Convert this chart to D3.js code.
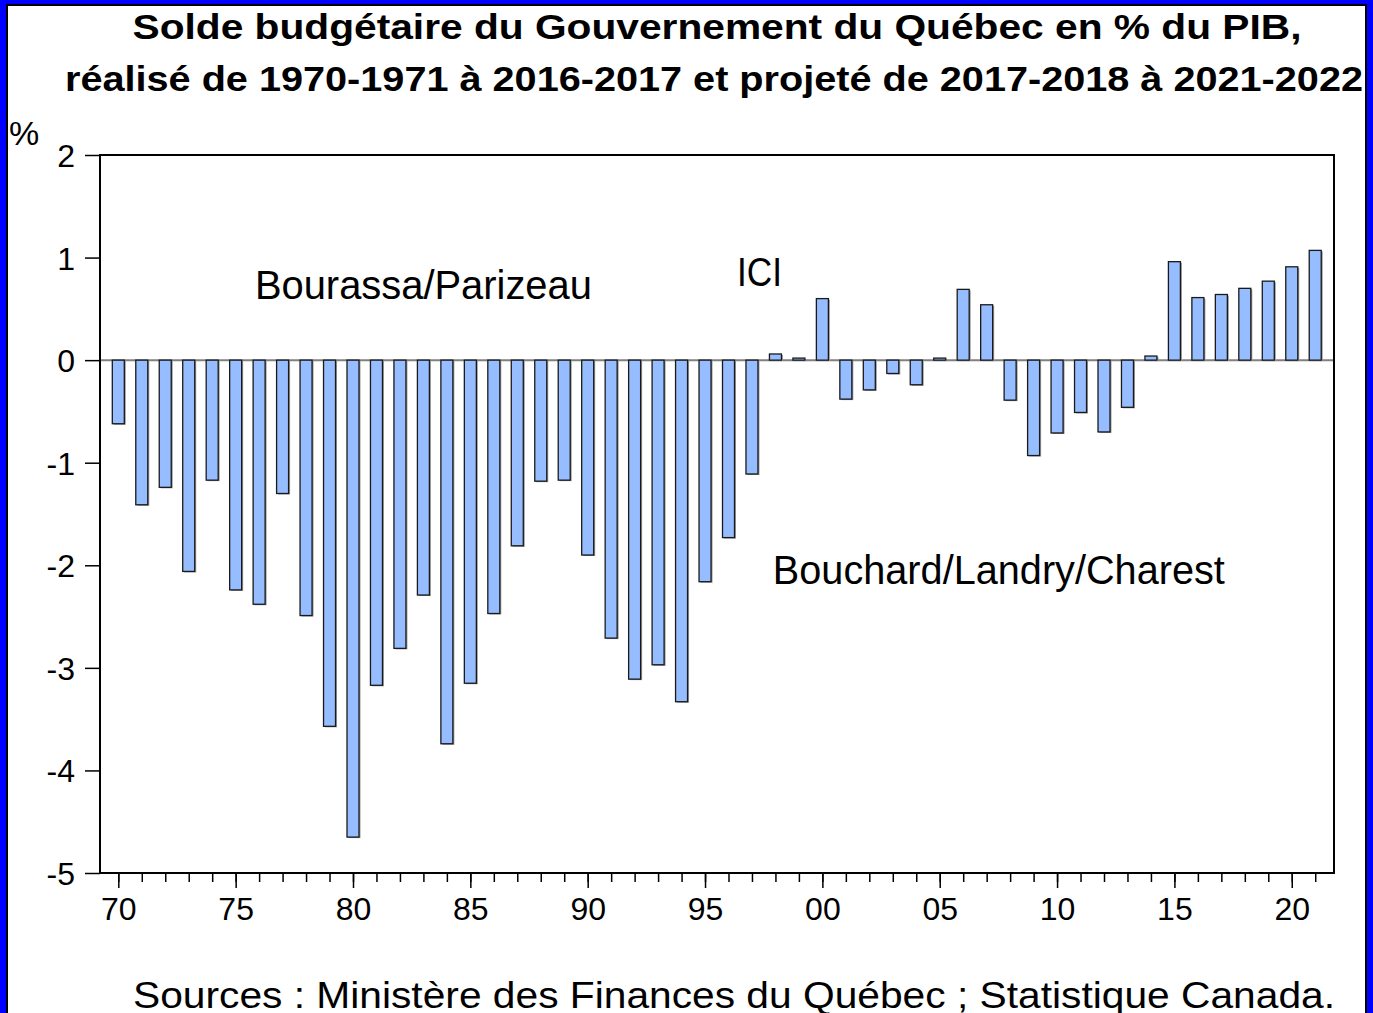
<!DOCTYPE html>
<html>
<head>
<meta charset="utf-8">
<script src="https://cdn.jsdelivr.net/npm/d3@7"></script>
<style>
  body { margin: 0; background: #0000ff; }
  text { font-family: "Liberation Sans", Arial, sans-serif; fill: #000; }
</style>
</head>
<body>
<div id="vis"></div>
<script>
// frame constants
const FRAME_WIDTH = 1373;
const FRAME_HEIGHT = 1013;
const PLOT = {left: 100, right: 1334, top: 155, bottom: 873};

// data (fiscal year start, % of GDP)
const YEARS = d3.range(1970, 2022);
const SOLDE = [-0.62, -1.41, -1.24, -2.06, -1.17, -2.24, -2.38, -1.30, -2.49, -3.57,
               -4.65, -3.17, -2.81, -2.29, -3.74, -3.15, -2.47, -1.81, -1.18, -1.17,
               -1.90, -2.71, -3.11, -2.97, -3.33, -2.16, -1.73, -1.11, 0.06, 0.02,
               0.60, -0.38, -0.29, -0.13, -0.24, 0.02, 0.69, 0.54, -0.39, -0.93,
               -0.71, -0.51, -0.70, -0.46, 0.04, 0.96, 0.61, 0.64, 0.70, 0.77,
               0.91, 1.07];
const Y_TICKS = [-5, -4, -3, -2, -1, 0, 1, 2];
const X_LABEL_YEARS = [1970, 1975, 1980, 1985, 1990, 1995, 2000, 2005, 2010, 2015, 2020];

const TITLE = ["Solde budgétaire du Gouvernement du Québec en % du PIB,",
               "réalisé de 1970-1971 à 2016-2017 et projeté de 2017-2018 à 2021-2022"];
const TITLE_WIDTHS = [1169, 1298];
const NOTES = [{text: "Bourassa/Parizeau", year: 1975.82, value: 0.60, len: 337},
               {text: "ICI", year: 1996.36, value: 0.72, len: 45},
               {text: "Bouchard/Landry/Charest", year: 1997.89, value: -2.18, len: 452}];
const SOURCE = "Sources : Ministère des Finances du Québec ; Statistique Canada.";

const data = YEARS.map((y, i) => ({year: y, value: SOLDE[i]}));

const SVG = d3.select("#vis")
  .append("svg")
    .attr("width", FRAME_WIDTH)
    .attr("height", FRAME_HEIGHT)
    .style("display", "block");

// blue frame with black inner line
SVG.append("rect")
  .attr("x", 0).attr("y", 0)
  .attr("width", FRAME_WIDTH).attr("height", FRAME_HEIGHT)
  .attr("fill", "#0000ff");
SVG.append("rect")
  .attr("x", 7).attr("y", 5)
  .attr("width", 1359).attr("height", FRAME_HEIGHT + 10)
  .attr("fill", "#fff")
  .attr("stroke", "#000")
  .attr("stroke-width", 2);

// scales
const X_SCALE = d3.scaleLinear()
  .domain([1969.22, 2021.8])
  .range([PLOT.left, PLOT.right]);
const Y_SCALE = d3.scaleLinear()
  .domain([-5, 2])
  .range([PLOT.bottom, PLOT.top]);
const BAR_W = 12;

// zero line
SVG.append("line")
  .attr("x1", PLOT.left).attr("x2", PLOT.right)
  .attr("y1", Y_SCALE(0)).attr("y2", Y_SCALE(0))
  .attr("stroke", "#808080")
  .attr("stroke-width", 2);

// bar shadows then bars
SVG.append("g")
  .selectAll("rect")
  .data(data)
  .enter()
  .append("rect")
    .attr("x", (d) => X_SCALE(d.year) - BAR_W / 2 + 1.5)
    .attr("y", (d) => Math.min(Y_SCALE(d.value), Y_SCALE(0)) + 1)
    .attr("width", BAR_W)
    .attr("height", (d) => Math.abs(Y_SCALE(d.value) - Y_SCALE(0)))
    .attr("fill", "#9a9a9a");

SVG.append("g")
  .selectAll("rect")
  .data(data)
  .enter()
  .append("rect")
    .attr("x", (d) => X_SCALE(d.year) - BAR_W / 2)
    .attr("y", (d) => Math.min(Y_SCALE(d.value), Y_SCALE(0)))
    .attr("width", BAR_W)
    .attr("height", (d) => Math.abs(Y_SCALE(d.value) - Y_SCALE(0)))
    .attr("fill", "#96bdff")
    .attr("stroke", "#1a1a1a")
    .attr("stroke-width", 1.3);

// plot box
SVG.append("rect")
  .attr("x", PLOT.left).attr("y", PLOT.top)
  .attr("width", PLOT.right - PLOT.left)
  .attr("height", PLOT.bottom - PLOT.top)
  .attr("fill", "none")
  .attr("stroke", "#000")
  .attr("stroke-width", 2);

// y axis
const yAxis = SVG.append("g")
  .attr("transform", "translate(" + PLOT.left + ",0)")
  .call(d3.axisLeft(Y_SCALE).tickValues(Y_TICKS).tickSize(15).tickPadding(10)
          .tickFormat((d) => String(d)))
  .attr("font-size", "32px");
yAxis.select(".domain").remove();
yAxis.selectAll("line").attr("stroke", "#000").attr("stroke-width", 1.5);
yAxis.selectAll("text").attr("font-family", "Liberation Sans").attr("dy", "0.36em");

// x axis: minor ticks every year, major ticks with labels every 5
const xMinor = SVG.append("g")
  .attr("transform", "translate(0," + PLOT.bottom + ")")
  .call(d3.axisBottom(X_SCALE).tickValues(YEARS).tickSize(9).tickFormat(""));
xMinor.select(".domain").remove();
xMinor.selectAll("line").attr("stroke", "#000").attr("stroke-width", 1.5);

const xMajor = SVG.append("g")
  .attr("transform", "translate(0," + PLOT.bottom + ")")
  .call(d3.axisBottom(X_SCALE).tickValues(X_LABEL_YEARS).tickSize(15).tickPadding(9)
          .tickFormat((d) => String(d % 100).padStart(2, "0")))
  .attr("font-size", "32px");
xMajor.select(".domain").remove();
xMajor.selectAll("line").attr("stroke", "#000").attr("stroke-width", 1.5);
xMajor.selectAll("text").attr("font-family", "Liberation Sans");

// "%" unit
SVG.append("text")
  .attr("x", 9).attr("y", 145)
  .attr("font-size", "34px")
  .text("%");

// title (the original is a bit stretched sideways)
SVG.append("g")
  .selectAll("text")
  .data(TITLE)
  .enter()
  .append("text")
    .attr("x", (d, i) => i === 0 ? 717 : 714)
    .attr("y", (d, i) => 39 + i * 52)
    .attr("text-anchor", "middle")
    .attr("font-size", "35px")
    .attr("font-weight", "bold")
    .attr("textLength", (d, i) => TITLE_WIDTHS[i])
    .attr("lengthAdjust", "spacingAndGlyphs")
    .text((d) => d);

// period notes
SVG.append("g")
  .selectAll("text")
  .data(NOTES)
  .enter()
  .append("text")
    .attr("x", (d) => X_SCALE(d.year))
    .attr("y", (d) => Y_SCALE(d.value))
    .attr("font-size", "40px")
    .attr("textLength", (d) => d.len)
    .attr("lengthAdjust", "spacingAndGlyphs")
    .text((d) => d.text);

// sources
SVG.append("text")
  .attr("x", 734).attr("y", 1008)
  .attr("text-anchor", "middle")
  .attr("font-size", "37px")
  .attr("textLength", 1202)
  .attr("lengthAdjust", "spacingAndGlyphs")
  .text(SOURCE);
</script>
</body>
</html>
